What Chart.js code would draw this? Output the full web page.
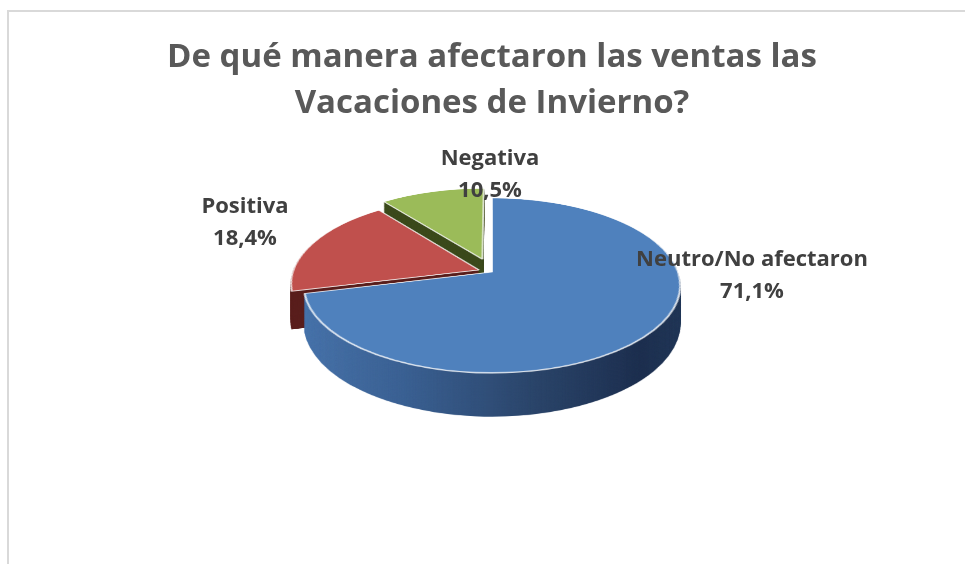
<!DOCTYPE html>
<html>
<head>
<meta charset="utf-8">
<script src="https://cdn.jsdelivr.net/npm/chart.js@4.4.1/dist/chart.umd.min.js"></script>
<style>
  html, body { margin: 0; padding: 0; background: #fff; overflow: hidden; }
  #wrap { position: relative; width: 965px; height: 564px; }
  #frame { position: absolute; left: 7px; top: 10px; width: 1000px; height: 600px;
           border: 2px solid #d9d9d9; box-sizing: border-box; }
  #c { position: absolute; left: 0; top: 0; }
</style>
</head>
<body>
<div id="wrap">
  <div id="frame"></div>
  <canvas id="c" width="965" height="564"></canvas>
</div>
<script>
// Survey answers and their shares (%)
const categories = ['Neutro/No afectaron', 'Positiva', 'Negativa'];
const shares = [71.1, 18.4, 10.5];
const titleLines = ['De qué manera afectaron las ventas las', 'Vacaciones de Invierno?'];

const faceColors = ['#4f81bd', '#c0504d', '#9bbb59'];

// Extruded pie seen in perspective. Each arc element is first painted flat
// on an offscreen canvas, then that disc is projected row by row onto the
// chart: side walls are stacked projections at growing depth, the top face
// is projected last.
const pie3d = {
  id: 'pie3d',
  beforeDatasetsDraw(chart, args, opts) {
    const arcs = chart.getDatasetMeta(0).data;
    if (!arcs.length) return false;
    const ctx = chart.ctx, area = chart.chartArea;
    const cx = arcs[0].x, R = arcs[0].outerRadius;
    const p = opts.perspective, kR = opts.tilt * R, H = opts.depth;
    const cy0 = area.top + kR / (1 + p);
    chart.$pie3d = { cx, cy: cy0 };

    const pad = Math.ceil(R + Math.max(...opts.explode) + 6);
    const size = pad * 2;

    const makeFlat = styler => {
      const cv = document.createElement('canvas');
      cv.width = size; cv.height = size;
      const c = cv.getContext('2d');
      arcs.forEach((a, i) => {
        const mid = (a.startAngle + a.endAngle) / 2;
        const e = opts.explode[i] || 0;
        c.save();
        c.translate(pad - a.x + Math.cos(mid) * e, pad - a.y + Math.sin(mid) * e);
        const view = Object.create(a);
        view.options = Object.assign({}, a.options, styler(i, c, a));
        a.draw.call(view, c);
        c.restore();
      });
      return cv;
    };

    const sideImg = makeFlat((i, c, a) => {
      let fill = opts.sideColors[i];
      if (Array.isArray(fill)) {
        const g = c.createLinearGradient(a.x - R, 0, a.x + R, 0);
        fill.forEach(([pos, col]) => g.addColorStop(pos, col));
        fill = g;
      }
      return { backgroundColor: fill, borderWidth: 0 };
    });
    const topImg = makeFlat(() => ({}));

    // plane point (u, t*R) at depth z -> screen (cx + u*s, cy0 + (kR*t + z)*s), s = 1/(1 - p*t)
    const project = (img, z) => {
      const yOf = t => cy0 + (kR * t + z) / (1 - p * t);
      const tOf = Y => (Y - cy0 - z) / (kR + p * (Y - cy0));
      const y0 = Math.floor(yOf(-pad / R)), y1 = Math.ceil(yOf(pad / R));
      for (let Y = y0; Y < y1; Y++) {
        const ta = tOf(Y), tb = tOf(Y + 1);
        let va = ta * R + pad, vb = tb * R + pad;
        if (vb <= 0 || va >= size) continue;
        va = Math.max(va, 0); vb = Math.min(vb, size);
        if (vb - va <= 0) continue;
        const s = 1 / (1 - p * (ta + tb) / 2);
        ctx.drawImage(img, 0, va, size, vb - va, cx - pad * s, Y, size * s, 1);
      }
    };

    ctx.save();
    for (let z = H; z > 0; z -= 0.5) project(sideImg, z);
    project(topImg, 0);
    ctx.restore();
    return false;
  },
  afterDraw(chart, args, opts) {
    const c = chart.$pie3d;
    if (!c) return;
    const ctx = chart.ctx;
    ctx.save();
    ctx.font = opts.font;
    ctx.fillStyle = opts.color;
    ctx.textAlign = 'center';
    ctx.textBaseline = 'alphabetic';
    chart.data.labels.forEach((name, i) => {
      const v = chart.data.datasets[0].data[i];
      const [dx, dy] = opts.labelOffsets[i];
      const x = c.cx + dx, y = c.cy + dy;
      ctx.fillText(name, x, y);
      ctx.fillText(v.toFixed(1).replace('.', ',') + '%', x, y + opts.lineGap);
    });
    ctx.restore();
  }
};

new Chart(document.getElementById('c'), {
  type: 'pie',
  data: {
    labels: categories,
    datasets: [{
      data: shares,
      backgroundColor: faceColors,
      borderColor: 'rgba(255,255,255,0.8)',
      borderWidth: 2
    }]
  },
  options: {
    responsive: false,
    animation: false,
    radius: 186,
    layout: { padding: { left: 19, right: 0, top: 0, bottom: 147 } },
    plugins: {
      legend: { display: false },
      tooltip: { enabled: false },
      title: {
        display: true,
        text: titleLines,
        color: '#595959',
        font: { family: 'Open Sans', size: 33, weight: 'bold', lineHeight: '46px' },
        padding: { top: 35, bottom: 71 }
      },
      pie3d: {
        tilt: 0.459,
        perspective: 0.154,
        depth: 37,
        explode: [0, 14, 30],
        sideColors: [
          [[0, '#4a76ad'], [0.3, '#3b6193'], [0.6, '#2b456a'], [0.85, '#1e3050'], [1, '#243a5a']],
          '#5a1f1d',
          '#3d4b1d'
        ],
        font: 'bold 22px "Open Sans"',
        color: '#404040',
        lineGap: 32,
        labelOffsets: [[260, -6], [-247, -59], [-2, -107]]
      }
    }
  },
  plugins: [pie3d]
});
</script>
</body>
</html>
